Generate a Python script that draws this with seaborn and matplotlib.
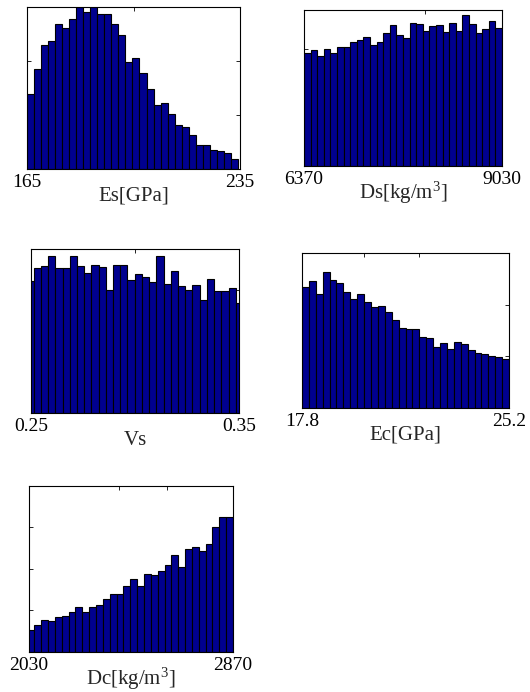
import numpy as np
import pandas as pd
import matplotlib
matplotlib.use('Agg')
import matplotlib.pyplot as plt
import seaborn as sns

# ヒストグラムの値
es_counts = [139, 185, 230, 238, 268, 261, 277, 300, 291, 300, 288, 288, 268, 248, 199,
             206, 177, 149, 119, 122, 101, 82, 77, 63, 44, 44, 35, 33, 29, 19]
ds_counts = [145, 149, 141, 150, 145, 152, 152, 159, 161, 165, 155, 159, 170, 181, 168,
             164, 183, 182, 173, 179, 181, 172, 183, 173, 193, 182, 170, 176, 186, 177]
vs_counts = [161, 177, 179, 192, 177, 177, 192, 179, 171, 181, 178, 150, 181, 181, 162,
             169, 166, 160, 191, 157, 173, 155, 150, 156, 138, 164, 149, 149, 153, 134]
ec_counts = [234, 245, 221, 264, 247, 242, 224, 210, 221, 205, 195, 197, 185, 170, 155,
             153, 153, 137, 135, 119, 126, 114, 128, 124, 112, 106, 105, 101, 99, 95]
dc_counts = [27, 32, 39, 37, 42, 43, 48, 54, 48, 54, 57, 64, 70, 70, 79,
             88, 80, 94, 93, 98, 105, 117, 102, 124, 126, 122, 130, 150, 163, 162]

labels = ['Es[GPa]', 'Ds[kg/m$^3$]', 'Vs', 'Ec[GPa]', 'Dc[kg/m$^3$]']
bin_ranges = [(165, 234.3), (6370, 9030), (0.2478, 0.3519), (17.8, 25.2), (2023.7, 2870)]
x_limits = [(165, 235), (6370, 9030), (0.25, 0.35), (17.8, 25.2), (2030, 2870)]
x_lo_labels = ['165', '6370', '0.25', '17.8', '2030']
x_hi_labels = ['235', '9030', '0.35', '25.2', '2870']
x_mid_ticks = [[200], [8000], [0.30], [20, 22], [2400, 2600]]
y_tops = [300, 200, 200, 300, 200]
y_steps = [100, 50, 50, 100, 50]

# 各サブプロットの位置 [left, bottom, width, height]
positions = [
    [0.0509, 0.7558, 0.4020, 0.2340],
    [0.5736, 0.7601, 0.3736, 0.2254],
    [0.0585, 0.4032, 0.3925, 0.2370],
    [0.5698, 0.4104, 0.3906, 0.2240],
    [0.0547, 0.0578, 0.3850, 0.2400],
]

sns.set_style('white')
plt.rcParams['font.family'] = ['Liberation Serif', 'DejaVu Serif']
plt.rcParams['mathtext.fontset'] = 'custom'
plt.rcParams['mathtext.rm'] = 'Liberation Serif'
plt.rcParams['mathtext.it'] = 'Liberation Serif:italic'

fig = plt.figure(figsize=(5.30, 6.92), dpi=100)

all_counts = [es_counts, ds_counts, vs_counts, ec_counts, dc_counts]
for i, counts in enumerate(all_counts):
    ax = fig.add_axes(positions[i])
    lo, hi = bin_ranges[i]
    edges = np.linspace(lo, hi, len(counts) + 1)
    centers = (edges[:-1] + edges[1:]) / 2
    df = pd.DataFrame({'x': centers, 'n': counts})
    sns.histplot(data=df, x='x', weights='n', bins=edges.tolist(), ax=ax,
                 color='#00008F', edgecolor='black', linewidth=0.8, alpha=1.0)
    ax.set_xlim(*x_limits[i])
    ax.set_ylim(0, y_tops[i])
    xt = [x_limits[i][0]] + x_mid_ticks[i] + [x_limits[i][1]]
    ax.set_xticks(xt)
    ax.set_xticklabels([x_lo_labels[i]] + [''] * len(x_mid_ticks[i]) + [x_hi_labels[i]])
    ax.set_yticks(np.arange(0, y_tops[i] + 1, y_steps[i]))
    ax.set_yticklabels([])
    ax.set_axisbelow(True)
    ax.tick_params(direction='in', top=True, right=True, bottom=True, left=True,
                   length=3, width=0.6, labelsize=14, pad=3.5, colors='black')
    # 上付き文字のあるラベルは少し上に寄せる
    lp = -6 if '$' in labels[i] else -3
    ax.set_xlabel(labels[i], fontsize=15, labelpad=lp)
    ax.set_ylabel('')
    for s in ax.spines.values():
        s.set_color('black')
        s.set_linewidth(0.8)

fig.savefig('out.png', dpi=100)
